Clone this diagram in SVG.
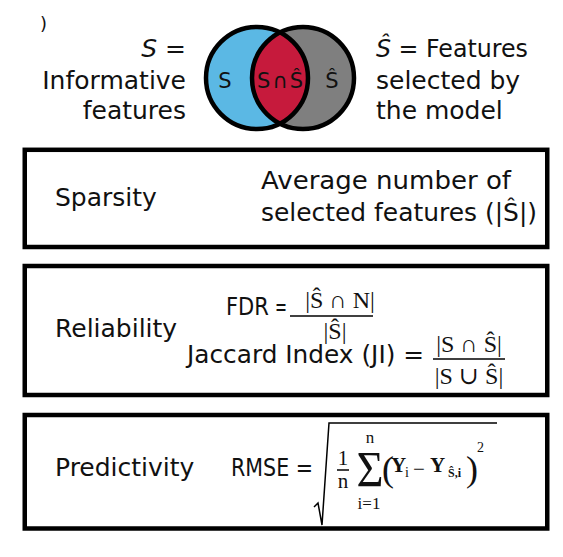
<svg xmlns="http://www.w3.org/2000/svg" width="563" height="557" viewBox="0 0 563 557">
  <style>
    .t { font-family: "DejaVu Sans", "Liberation Sans", sans-serif; font-size: 25px; fill: #111; }
    .m { font-family: "Liberation Serif", "DejaVu Serif", serif; fill: #111; }
    .b { font-weight: bold; }
    .box { fill: #fff; stroke: #000; stroke-width: 4.5; }
    .ring { fill: none; stroke: #000; stroke-width: 4.5; }
    .bar { stroke: #000; stroke-width: 1.5; fill: none; }
  </style>
  <defs>
    <clipPath id="clipL"><circle cx="257" cy="78" r="51"/></clipPath>
  </defs>
  <rect width="563" height="557" fill="#fff"/>

  <text class="t" x="40" y="30" style="font-size:18px">)</text>

  <g id="venn">
    <circle cx="257" cy="78" r="51" fill="#5BB8E4"/>
    <circle cx="303" cy="78" r="51" fill="#7F7F7F"/>
    <circle cx="303" cy="78" r="51" fill="#C61A3C" clip-path="url(#clipL)"/>
    <circle class="ring" cx="257" cy="78" r="51"/>
    <circle class="ring" cx="303" cy="78" r="51"/>
    <text class="t" x="225" y="88" text-anchor="middle" style="font-size:21px">S</text>
    <text class="t" x="281" y="88" text-anchor="middle" style="font-size:21px" letter-spacing="2">S∩Ŝ</text>
    <text class="t" x="332" y="88" text-anchor="middle" style="font-size:21px">Ŝ</text>
  </g>

  <g id="label-S">
    <text class="t" x="186" y="57" text-anchor="end"><tspan font-style="italic">S</tspan> =</text>
    <text class="t" x="186" y="89" text-anchor="end">Informative</text>
    <text class="t" x="186" y="119" text-anchor="end">features</text>
  </g>

  <g id="label-Shat">
    <text class="t" x="376" y="57" textLength="152" lengthAdjust="spacingAndGlyphs"><tspan font-style="italic">Ŝ</tspan> = Features</text>
    <text class="t" x="376" y="89">selected by</text>
    <text class="t" x="376" y="119">the model</text>
  </g>

  <g id="sparsity">
    <rect class="box" x="24.75" y="149.8" width="522.5" height="97.2"/>
    <text class="t" x="55" y="206">Sparsity</text>
    <text class="t" x="261" y="189" textLength="250" lengthAdjust="spacingAndGlyphs">Average number of</text>
    <text class="t" x="261" y="221" textLength="276" lengthAdjust="spacingAndGlyphs">selected features (|Ŝ|)</text>
  </g>

  <g id="reliability">
    <rect class="box" x="24.75" y="266" width="522.5" height="129"/>
    <text class="t" x="55" y="337">Reliability</text>
    <text class="t" x="226" y="315" textLength="43" lengthAdjust="spacingAndGlyphs">FDR</text>
    <text class="t" x="275" y="315" textLength="12" lengthAdjust="spacingAndGlyphs">=</text>
    <line class="bar" x1="290" y1="316" x2="373" y2="316"/>
    <text class="m" x="340" y="308" text-anchor="middle" font-size="24">|Ŝ ∩ N|</text>
    <text class="m" x="335" y="339" text-anchor="middle" font-size="24">|Ŝ|</text>
    <text class="t" x="187" y="363" textLength="237" lengthAdjust="spacingAndGlyphs">Jaccard Index (JI) =</text>
    <line class="bar" x1="433" y1="359" x2="505" y2="359"/>
    <text class="m" x="469" y="352" text-anchor="middle" font-size="24">|S ∩ Ŝ|</text>
    <text class="m" x="469" y="384" text-anchor="middle" font-size="24">|S ∪ Ŝ|</text>
  </g>

  <g id="predictivity">
    <rect class="box" x="24.75" y="415" width="522.5" height="113.5"/>
    <text class="t" x="55" y="476">Predictivity</text>
    <text class="t" x="231" y="476" textLength="82" lengthAdjust="spacingAndGlyphs">RMSE =</text>
    <path class="bar" d="M314,507 L318,503 L322,525 L329,423 L497,423"/>
    <text class="m" x="343" y="465" text-anchor="middle" font-size="21">1</text>
    <line class="bar" x1="337" y1="470" x2="349" y2="470"/>
    <text class="m" x="343" y="488" text-anchor="middle" font-size="21">n</text>
    <text class="m" x="370" y="486" text-anchor="middle" font-size="50" textLength="27" lengthAdjust="spacingAndGlyphs">Σ</text>
    <text class="m" x="370" y="443" text-anchor="middle" font-size="17">n</text>
    <text class="m" x="369" y="509" text-anchor="middle" font-size="17">i=1</text>
    <text class="m" x="382" y="481" font-size="36">(</text>
    <text class="m b" x="391" y="472" font-size="21">Y</text>
    <text class="m" x="405" y="477" font-size="14">i</text>
    <text class="m" x="413" y="476" font-size="21">−</text>
    <text class="m b" x="430" y="472" font-size="21">Y</text>
    <text class="m b" x="448" y="477" font-size="12">Ŝ,i</text>
    <text class="m" x="466" y="481" font-size="36">)</text>
    <text class="m" x="477" y="452" font-size="14">2</text>
  </g>
</svg>
